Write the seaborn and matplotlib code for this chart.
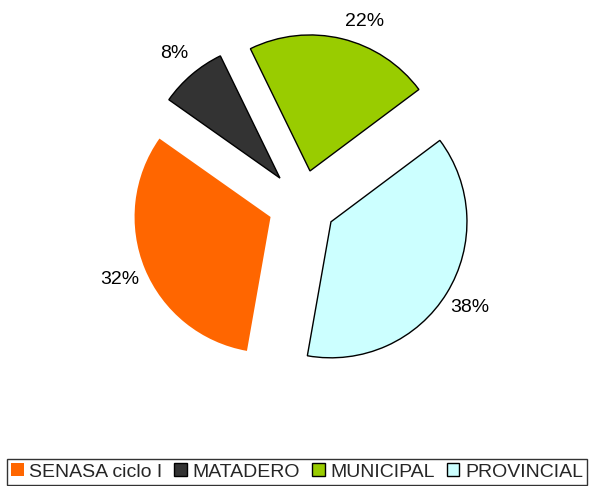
import matplotlib
matplotlib.use("Agg")
import matplotlib.pyplot as plt
import seaborn as sns
from matplotlib.patches import Patch

categories = ["SENASA ciclo I", "MATADERO", "MUNICIPAL", "PROVINCIAL"]
shares = [32, 8, 22, 38]
colors = ["#FF6600", "#333333", "#99CC00", "#CCFFFF"]
edges = ["none", "black", "black", "black"]

sns.set_theme(style="white")
plt.rcParams["font.family"] = ["Liberation Sans", "DejaVu Sans"]

fig = plt.figure(figsize=(5.94, 4.86), dpi=100)
ax = fig.add_axes([0, 0, 1, 1])

wedges, texts, autotexts = ax.pie(
    shares,
    colors=colors,
    explode=[0.25] * len(shares),
    startangle=-100,
    counterclock=False,
    autopct="%1.0f%%",
    pctdistance=1.2,
    wedgeprops=dict(linewidth=1.0),
    textprops=dict(fontsize=14, color="black"),
)
for w, ec in zip(wedges, edges):
    w.set_edgecolor(ec)

# Excel put the MUNICIPAL label a bit lower-right of the wedge bisector
x, y = autotexts[2].get_position()
autotexts[2].set_position((x + 0.12, y - 0.07))

# 1 data unit = 136 px, pie centre at (302, 204) px from top-left
r = 136.0
ax.set_xlim(-302 / r, (594 - 302) / r)
ax.set_ylim(-(486 - 204) / r, 204 / r)
ax.set_aspect("equal")
ax.axis("off")

handles = [Patch(facecolor=c, edgecolor=e, linewidth=1.0) for c, e in zip(colors, edges)]
leg = fig.legend(
    handles, categories,
    loc="lower center", bbox_to_anchor=(0.5, 0.003), ncol=4,
    fontsize=14, frameon=True, fancybox=False,
    handlelength=0.65, handleheight=0.65, handletextpad=0.3,
    columnspacing=0.6, borderpad=0.2, borderaxespad=0.0,
)
leg.get_frame().set_edgecolor("black")
leg.get_frame().set_linewidth(1.0)

fig.savefig("out.png", dpi=100)
